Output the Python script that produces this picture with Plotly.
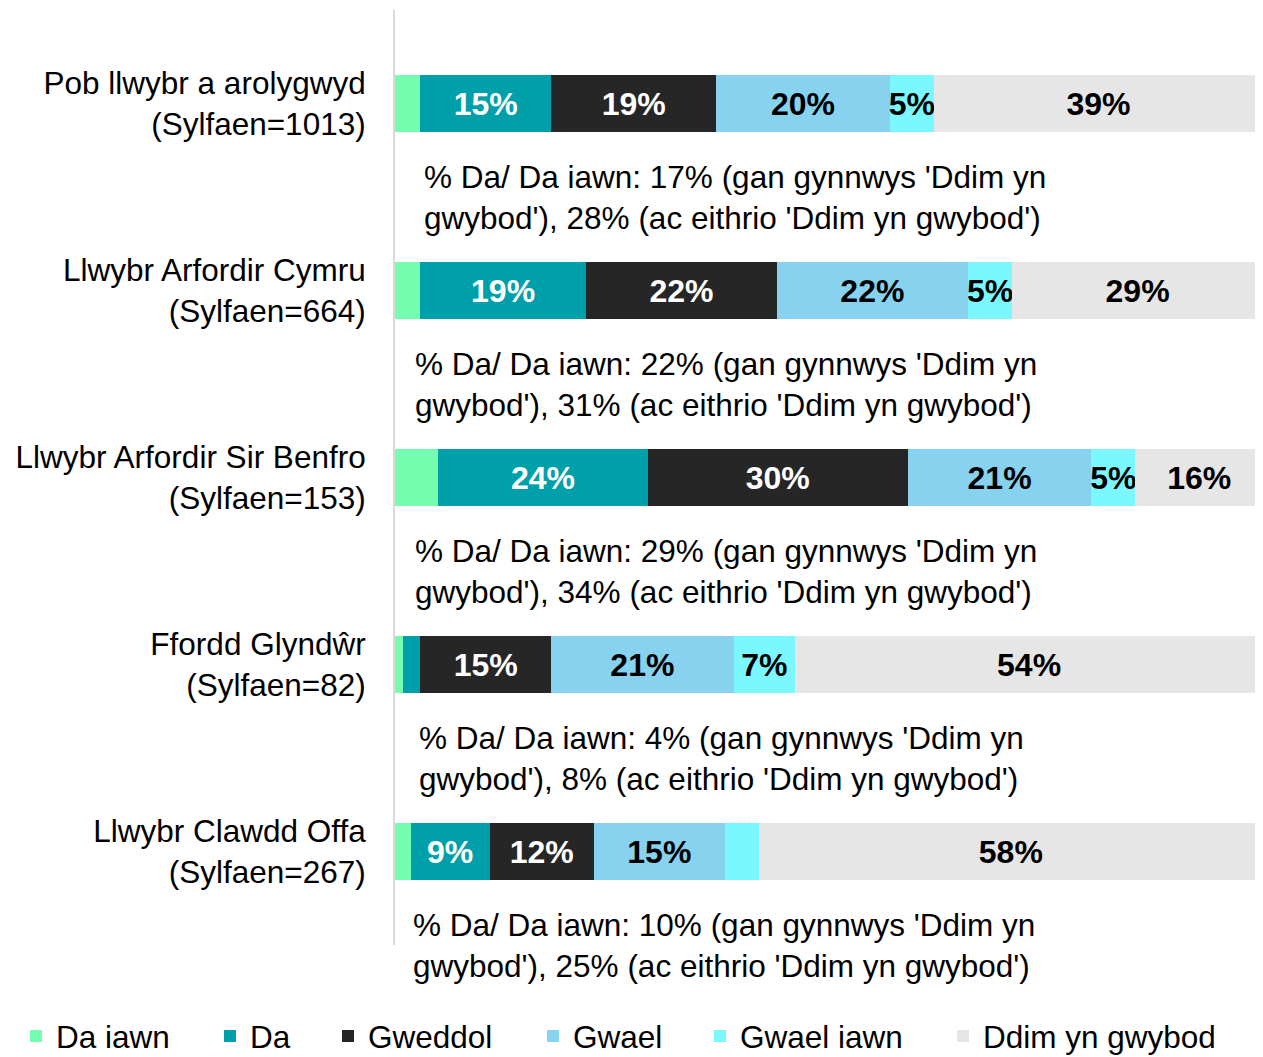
import plotly.graph_objects as go

# ---------------- data ----------------
categories = [
    "Pob llwybr a arolygwyd<br>(Sylfaen=1013)",
    "Llwybr Arfordir Cymru<br>(Sylfaen=664)",
    "Llwybr Arfordir Sir Benfro<br>(Sylfaen=153)",
    "Ffordd Glyndŵr<br>(Sylfaen=82)",
    "Llwybr Clawdd Offa<br>(Sylfaen=267)",
]
series_names = ["Da iawn", "Da", "Gweddol", "Gwael", "Gwael iawn", "Ddim yn gwybod"]

da_iawn = [2.9, 2.9, 5.0, 0.9, 1.8]
da = [15.1, 19.1, 24.1, 2.0, 9.1]
gweddol = [19.0, 22.0, 30.0, 15.1, 12.0]
gwael = [20.0, 22.0, 21.1, 21.0, 15.1]
gwael_iawn = [5.1, 5.1, 5.1, 7.1, 3.9]
ddim = [37.9, 28.9, 14.7, 53.9, 58.1]

lbl_da_iawn = ["", "", "", "", ""]
lbl_da = ["15%", "19%", "24%", "", "9%"]
lbl_gweddol = ["19%", "22%", "30%", "15%", "12%"]
lbl_gwael = ["20%", "22%", "21%", "21%", "15%"]
lbl_gwael_iawn = ["5%", "5%", "5%", "7%", ""]
lbl_ddim = ["39%", "29%", "16%", "54%", "58%"]

incl_dk = [17, 22, 29, 4, 10]
excl_dk = [28, 31, 34, 8, 25]

# ---------------- styles ----------------
colors = ["#75FDB0", "#00A0AA", "#262626", "#87D2EF", "#7BF8FF", "#E6E6E6"]
text_colors = ["#000000", "#FFFFFF", "#FFFFFF", "#000000", "#000000", "#000000"]
FONT = "Liberation Sans, Arial, sans-serif"
FIG_W, FIG_H = 1247, 1049

values = [da_iawn, da, gweddol, gwael, gwael_iawn, ddim]
labels = [lbl_da_iawn, lbl_da, lbl_gweddol, lbl_gwael, lbl_gwael_iawn, lbl_ddim]

legend_keys = ["legend", "legend2", "legend3", "legend4", "legend5", "legend6"]
legend_px = [8, 202, 320, 525, 692, 935]

fig = go.Figure()
for name, vals, lbls, col, tcol, lk in zip(series_names, values, labels, colors, text_colors, legend_keys):
    fig.add_trace(go.Bar(
        y=categories, x=vals, name=name, orientation="h",
        marker=dict(color=col, line=dict(width=0)),
        text=lbls, textposition="inside", insidetextanchor="middle",
        constraintext="none", textangle=0,
        textfont=dict(family=FONT, size=32, color=tcol, weight="bold"),
        width=0.31, legend=lk, hoverinfo="skip",
    ))

ann_x = [3.15, 2.05, 2.05, 2.55, 1.85]
for i, (a, b) in enumerate(zip(incl_dk, excl_dk)):
    fig.add_annotation(
        x=ann_x[i], y=i + 0.5, xref="x", yref="y",
        text=f"% Da/ Da iawn: {a}% (gan gynnwys 'Ddim yn<br>gwybod'), {b}% (ac eithrio 'Ddim yn gwybod')",
        showarrow=False, xanchor="left", yanchor="middle", align="left",
        font=dict(family=FONT, size=31.5, color="#000000"),
    )

layout_legends = {}
for lk, px in zip(legend_keys, legend_px):
    layout_legends[lk] = dict(
        orientation="h", xref="container", yref="paper",
        x=px / FIG_W, y=-0.0685, xanchor="left", yanchor="top",
        font=dict(family=FONT, size=31.5, color="#000000"),
        bgcolor="rgba(0,0,0,0)", borderwidth=0,
    )

fig.update_layout(
    width=FIG_W, height=FIG_H,
    margin=dict(l=387, r=0, t=2, b=112, autoexpand=False),
    barmode="stack",
    plot_bgcolor="white", paper_bgcolor="white",
    showlegend=True,
    font=dict(family=FONT, size=31.5, color="#000000"),
    xaxis=dict(range=[0, 99.08], visible=False, fixedrange=True),
    yaxis=dict(
        range=[4.5, -0.5], autorange=False, showline=True, linecolor="#D9D9D9", linewidth=2,
        showgrid=False, zeroline=False, ticks="", ticklabelstandoff=21,
        tickfont=dict(family=FONT, size=31.5, color="#000000"),
    ),
    **layout_legends,
)

fig.write_html("out.html")
